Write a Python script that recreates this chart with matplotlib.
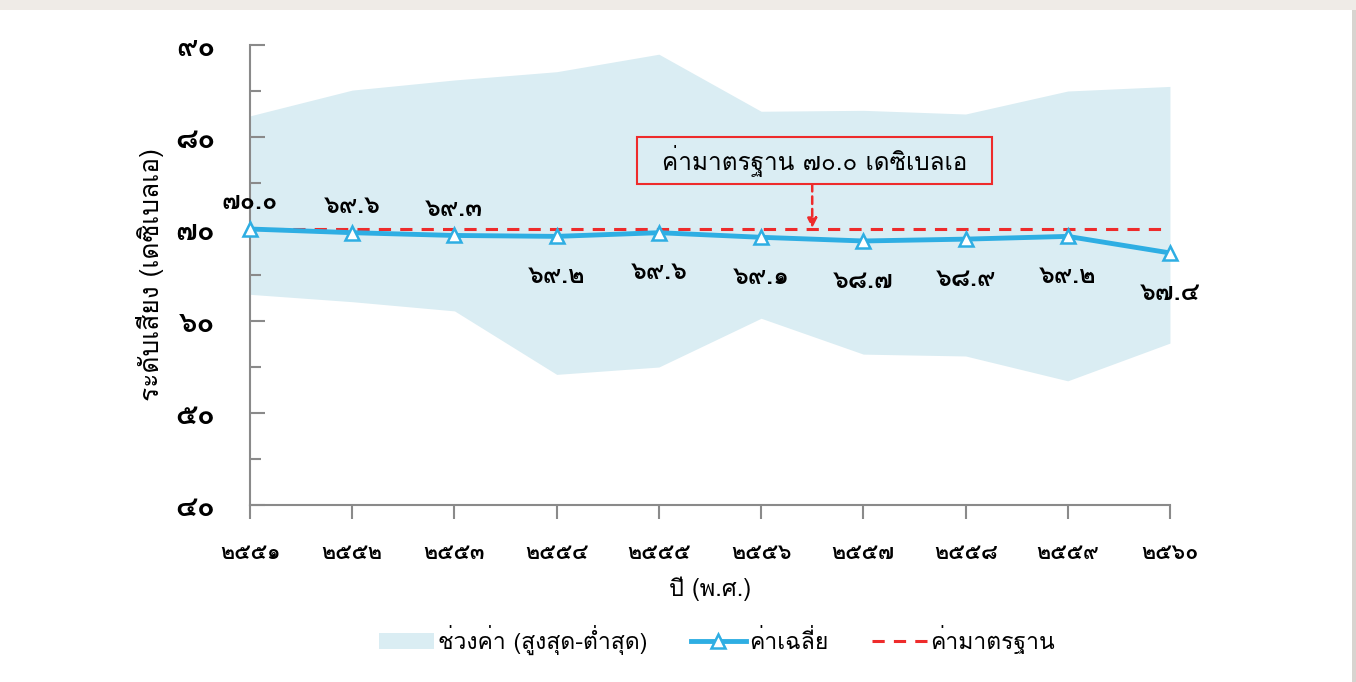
import matplotlib
matplotlib.use("Agg")
import matplotlib.pyplot as plt
from matplotlib import font_manager
from matplotlib.ft2font import FT2Font
from matplotlib.lines import Line2D
from matplotlib.patches import Patch, Rectangle

# find an installed family that covers Thai
thai_fams = []
for f in font_manager.fontManager.ttflist:
    try:
        if 0x0E01 in FT2Font(f.fname).get_charmap() and f.name not in thai_fams:
            thai_fams.append(f.name)
    except Exception:
        pass
plt.rcParams['font.family'] = thai_fams + ['DejaVu Sans']

years = [2551, 2552, 2553, 2554, 2555, 2556, 2557, 2558, 2559, 2560]
avg = [70.0, 69.6, 69.3, 69.2, 69.6, 69.1, 68.7, 68.9, 69.2, 67.4]
upper = [82.3, 85.1, 86.2, 87.1, 89.0, 82.8, 82.9, 82.5, 85.0, 85.5]
lower = [62.9, 62.1, 61.1, 54.2, 55.0, 60.3, 56.4, 56.2, 53.5, 57.6]
standard = 70.0
y_ticks = [40, 50, 60, 70, 80, 90]

TH = str.maketrans("0123456789", "๐๑๒๓๔๕๖๗๘๙")
def th(s):
    return str(s).translate(TH)

fig = plt.figure(figsize=(13.56, 6.82), dpi=100)
ax = fig.add_axes([0.1844, 0.2595, 0.6784, 0.6745])

fill_c = '#daedf3'
line_c = '#2eaee3'
red = '#ee2b2b'

ax.fill_between(years, lower, upper, color=fill_c, lw=0, zorder=1)
ax.plot(years, [standard] * len(years), color=red, ls=(0, (4, 3)), lw=2.2, zorder=3)
ax.plot(years, avg, color=line_c, lw=3.5, marker='^', ms=10,
        mfc='white', mec=line_c, mew=1.8, zorder=4, clip_on=False)

# value labels: first three above the line, the rest below
for i, (x, v) in enumerate(zip(years, avg)):
    dy = 19 if i < 3 else -29
    ax.annotate(th(f"{v:.1f}"), (x, v), xytext=(0, dy), textcoords='offset points',
                ha='center', va='center', fontsize=18, fontweight='bold')

# standard callout
box_x0, box_x1, box_y0, box_y1 = 2554.79, 2558.26, 74.9, 80.0
ax.add_patch(Rectangle((box_x0, box_y0), box_x1 - box_x0, box_y1 - box_y0,
                       facecolor=fill_c, edgecolor=red, lw=1.5, zorder=6))
ax.text((box_x0 + box_x1) / 2, (box_y0 + box_y1) / 2 - 0.1,
        th("ค่ามาตรฐาน 70.0 เดซิเบลเอ"), ha='center', va='center', fontsize=17.5, zorder=7)
ax.annotate('', xy=(2556.5, standard + 0.1), xytext=(2556.5, box_y0),
            arrowprops=dict(arrowstyle='-|>', color=red, lw=1.8, ls=(0, (3, 2)),
                            mutation_scale=14, shrinkA=0, shrinkB=0), zorder=5)

ax.set_xlim(2551, 2560)
ax.set_ylim(40, 90)
ax.set_xticks(years)
ax.set_xticklabels([th(y) for y in years], fontsize=15.5, fontweight='bold')
ax.set_yticks(y_ticks)
ax.set_yticklabels([th(y) for y in y_ticks], fontsize=21, fontweight='bold')
ax.set_yticks([45, 55, 65, 75, 85], minor=True)
ax.tick_params(axis='y', which='both', direction='in', length=11, color='#8a8a8a', width=1.5, pad=25)
ax.tick_params(axis='y', which='minor', length=8)
ax.tick_params(axis='x', direction='out', length=10, color='#8a8a8a', width=1.5, pad=17)

for s in ['top', 'right']:
    ax.spines[s].set_visible(False)
for s in ['left', 'bottom']:
    ax.spines[s].set_color('#8a8a8a')
    ax.spines[s].set_linewidth(1.5)

ax.set_ylabel("ระดับเสียง (เดซิเบลเอ)", fontsize=19, labelpad=8)
ax.set_xlabel("ปี (พ.ศ.)", fontsize=17, labelpad=10)

handles = [Patch(facecolor=fill_c, edgecolor='none'),
           Line2D([], [], color=line_c, lw=3.5, marker='^', ms=10, mfc='white', mec=line_c, mew=1.8),
           Line2D([], [], color=red, ls=(0, (4, 3)), lw=2.2)]
labels = ["ช่วงค่า (สูงสุด-ต่ำสุด)", "ค่าเฉลี่ย", "ค่ามาตรฐาน"]
fig.legend(handles, labels, loc='center', bbox_to_anchor=(0.529, 0.062), ncol=3,
           frameon=False, fontsize=16.5, handlelength=2.4, columnspacing=1.9, handletextpad=0.15)

# light frame like the screenshot
fig.patches.append(Rectangle((0, 0.985), 1, 0.015, transform=fig.transFigure,
                             facecolor='#efebe7', edgecolor='none'))
fig.patches.append(Rectangle((0.997, 0), 0.003, 0.985, transform=fig.transFigure,
                             facecolor='#d8d4d0', edgecolor='none'))

fig.savefig('out.png', dpi=100)
